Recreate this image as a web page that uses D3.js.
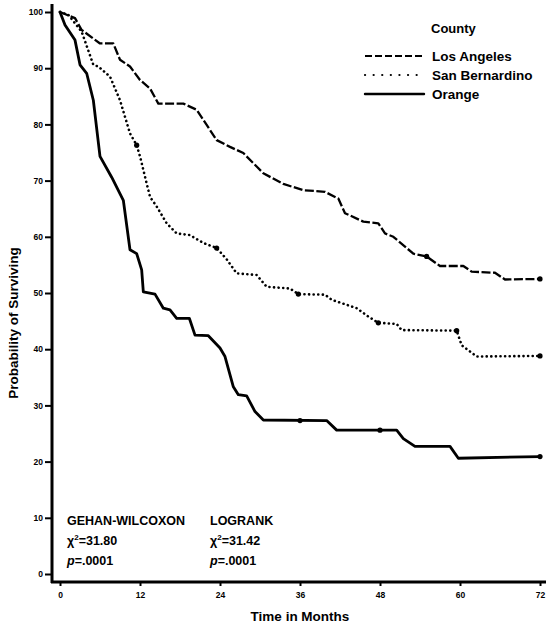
<!DOCTYPE html>
<html>
<head>
<meta charset="utf-8">
<script src="https://cdn.jsdelivr.net/npm/d3@7"></script>
<style>
  body { margin: 0; background: #fff; }
  svg text { font-family: "Liberation Sans", Arial, sans-serif; font-weight: bold; fill: #000; }
</style>
</head>
<body>
<div id="chart"></div>
<script>
// survival data (months, percent surviving)
const laMonths = [0, 1, 2.25, 3.25, 6, 8, 9, 10.5, 12, 13.5, 14.75, 18.5, 20.5, 23.5, 25.5, 27.5, 29.5, 30.5, 33.5, 36.5, 39.75, 41.75, 42.75, 45.5, 47.75, 48.75, 50, 53, 55, 57, 60.5, 61.75, 65.25, 66.75, 72];
const laSurv = [100, 99.5, 98.9, 96.8, 94.4, 94.4, 91.5, 90.3, 87.9, 86.4, 83.7, 83.7, 82.6, 77.2, 76, 74.9, 72.5, 71.3, 69.4, 68.3, 68.0, 66.8, 64.2, 62.7, 62.4, 60.6, 60.0, 57.0, 56.5, 54.8, 54.8, 53.8, 53.6, 52.4, 52.5];

const sbMonths = [0, 1.25, 3.25, 5, 5.75, 7.5, 9, 10.5, 11.5, 12, 13.5, 14.5, 16, 17.5, 19.5, 21.5, 23.5, 25, 26.5, 29.5, 31, 34.5, 35.75, 39.75, 40.75, 44.5, 46.25, 47.75, 50.5, 51.25, 59.5, 60.25, 62.5, 72];
const sbSurv = [100, 99.5, 96.5, 90.6, 90.3, 88.5, 84.3, 78.4, 76.3, 74.3, 67.1, 65.4, 62.4, 60.6, 60.3, 58.9, 58.0, 56, 53.5, 53.2, 51.1, 50.8, 49.8, 49.7, 48.8, 47.3, 45.8, 44.7, 44.5, 43.4, 43.3, 40.7, 38.7, 38.8];

const orMonths = [0, 0.75, 2.25, 3, 4, 5, 6, 7.75, 9.5, 10.5, 11.5, 12.25, 12.5, 14.25, 15.5, 16.5, 17.5, 19.4, 20.25, 22.25, 24, 24.75, 26, 26.75, 28, 29.25, 30.5, 40, 41.5, 50.5, 51.5, 53.25, 58.5, 59.75, 72];
const orSurv = [100, 97.7, 95.0, 90.6, 89.1, 84.3, 74.3, 70.6, 66.5, 57.7, 57.0, 54.1, 50.2, 49.8, 47.3, 47.0, 45.5, 45.5, 42.5, 42.4, 40.2, 38.7, 33.3, 31.9, 31.7, 28.9, 27.4, 27.3, 25.6, 25.6, 24.1, 22.7, 22.7, 20.6, 20.9];

// censored marks
const sbCensor = [[11.5, 76.3], [23.5, 58.0], [35.75, 49.8], [47.75, 44.7], [59.5, 43.3], [72, 38.8]];
const laCensor = [[55, 56.5], [72, 52.5]];
const orCensor = [[36, 27.3], [48, 25.6], [72, 20.9]];

const counties = ["Los Angeles", "San Bernardino", "Orange"];
const xTicks = [0, 12, 24, 36, 48, 60, 72];
const yTicks = [0, 10, 20, 30, 40, 50, 60, 70, 80, 90, 100];

const width = 550, height = 625;

const svg = d3.select("#chart").append("svg")
    .attr("width", width)
    .attr("height", height);

const x = d3.scaleLinear().domain([0, 72]).range([60, 540]);
const y = d3.scaleLinear().domain([0, 100]).range([574, 12]);

// line styles
const styles = {
    "Los Angeles": { dash: "9,2.5", width: 2.3, cap: "butt" },
    "San Bernardino": { dash: "0.1,4.5", width: 2.6, cap: "round" },
    "Orange": { dash: null, width: 2.8, cap: "round" }
};

// axes
const yAxis = svg.append("g")
    .attr("transform", "translate(52,0)")
    .call(d3.axisLeft(y).tickValues(yTicks).tickSize(7).tickSizeOuter(0).tickPadding(2));
yAxis.select(".domain").remove();
yAxis.selectAll("line").attr("stroke", "#000").attr("stroke-width", 2);
yAxis.selectAll("text").style("font-size", "8.5px").style("font-family", "Liberation Sans, Arial").style("font-weight", "bold");

const xAxis = svg.append("g")
    .attr("transform", "translate(0,582)")
    .call(d3.axisBottom(x).tickValues(xTicks).tickSize(4).tickSizeOuter(0).tickPadding(6));
xAxis.select(".domain").remove();
xAxis.selectAll("line").attr("stroke", "#000").attr("stroke-width", 2);
xAxis.selectAll("text").style("font-size", "8.5px").style("font-family", "Liberation Sans, Arial").style("font-weight", "bold");

svg.append("line")
    .attr("x1", 52).attr("x2", 52).attr("y1", 4).attr("y2", 583)
    .attr("stroke", "#000").attr("stroke-width", 3);
svg.append("line")
    .attr("x1", 51).attr("x2", 546).attr("y1", 582).attr("y2", 582)
    .attr("stroke", "#000").attr("stroke-width", 3);

// axis titles
svg.append("text")
    .attr("x", 300).attr("y", 621)
    .attr("text-anchor", "middle")
    .style("font-size", "13.5px")
    .text("Time in Months");

svg.append("text")
    .attr("transform", "translate(18,323) rotate(-90)")
    .attr("text-anchor", "middle")
    .style("font-size", "13.5px")
    .text("Probability of Surviving");

// curves
const line = d3.line()
    .x(d => x(d[0]))
    .y(d => y(d[1]));

const series = [
    { name: "Los Angeles", months: laMonths, surv: laSurv, censor: laCensor },
    { name: "San Bernardino", months: sbMonths, surv: sbSurv, censor: sbCensor },
    { name: "Orange", months: orMonths, surv: orSurv, censor: orCensor }
];

series.forEach(s => {
    const st = styles[s.name];
    const pts = s.months.map((m, i) => [m, s.surv[i]]);
    svg.append("path")
        .datum(pts)
        .attr("d", line)
        .attr("fill", "none")
        .attr("stroke", "#000")
        .attr("stroke-width", st.width)
        .attr("stroke-linecap", st.cap)
        .attr("stroke-linejoin", "round")
        .attr("stroke-dasharray", st.dash);

    svg.selectAll(null)
        .data(s.censor)
        .enter()
        .append("circle")
        .attr("cx", d => x(d[0]))
        .attr("cy", d => y(d[1]))
        .attr("r", 2.6)
        .attr("fill", "#000");
});

// legend
const legend = svg.append("g");
legend.append("text")
    .attr("x", 431).attr("y", 33)
    .style("font-size", "13px")
    .text("County");

counties.forEach((c, i) => {
    const st = styles[c];
    const ly = 56 + i * 19;
    legend.append("line")
        .attr("x1", 365).attr("x2", 424)
        .attr("y1", ly).attr("y2", ly)
        .attr("stroke", "#000")
        .attr("stroke-width", st.width - 0.4)
        .attr("stroke-linecap", st.cap)
        .attr("stroke-dasharray", c === "San Bernardino" ? "0.1,8.5" : (c === "Los Angeles" ? "7,3" : st.dash));
    legend.append("text")
        .attr("x", 432).attr("y", ly + 5)
        .style("font-size", "13.5px")
        .text(c);
});

// test statistics
const stats = [
    { x: 67, title: "GEHAN-WILCOXON", chi: "31.80", p: ".0001" },
    { x: 210, title: "LOGRANK", chi: "31.42", p: ".0001" }
];

stats.forEach(s => {
    svg.append("text")
        .attr("x", s.x).attr("y", 525)
        .style("font-size", "12.5px")
        .text(s.title);
    const chi = svg.append("text")
        .attr("x", s.x).attr("y", 545)
        .style("font-size", "12.5px");
    chi.append("tspan").text("χ");
    chi.append("tspan").attr("dy", -5).style("font-size", "8px").text("2");
    chi.append("tspan").attr("dy", 5).text("=" + s.chi);
    const p = svg.append("text")
        .attr("x", s.x).attr("y", 565)
        .style("font-size", "12.5px");
    p.append("tspan").style("font-style", "italic").text("p");
    p.append("tspan").text("=" + s.p);
});
</script>
</body>
</html>
